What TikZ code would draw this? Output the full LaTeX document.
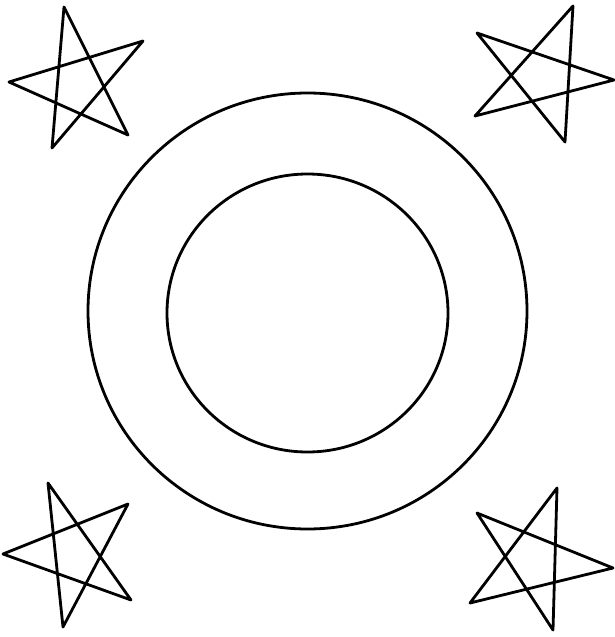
\documentclass[tikz,border=0pt]{standalone}
\begin{document}
\begin{tikzpicture}[x=1pt,y=-1pt,
  ink/.style={line width=2.8pt,line join=round,line cap=round,black}]
\useasboundingbox[fill=white] (0,0) rectangle (615,637);
% circles
\draw[ink] (307.5,311) ellipse [x radius=219.5,y radius=218];
\draw[ink] (307.5,313) ellipse [x radius=140.5,y radius=139];
% top-left star
\draw[ink] (64,7) -- (128,135) -- (9,82) -- (143,41) -- (52,148) -- cycle;
% top-right star
\draw[ink] (573,6) -- (565,142) -- (477,33) -- (614,80) -- (475,116) -- cycle;
% bottom-left star
\draw[ink] (48,483) -- (131,600) -- (3,554) -- (128,504) -- (63,627) -- cycle;
% bottom-right star
\draw[ink] (557,488) -- (553,630) -- (477,513) -- (613,568) -- (470,603) -- cycle;
\end{tikzpicture}
\end{document}
